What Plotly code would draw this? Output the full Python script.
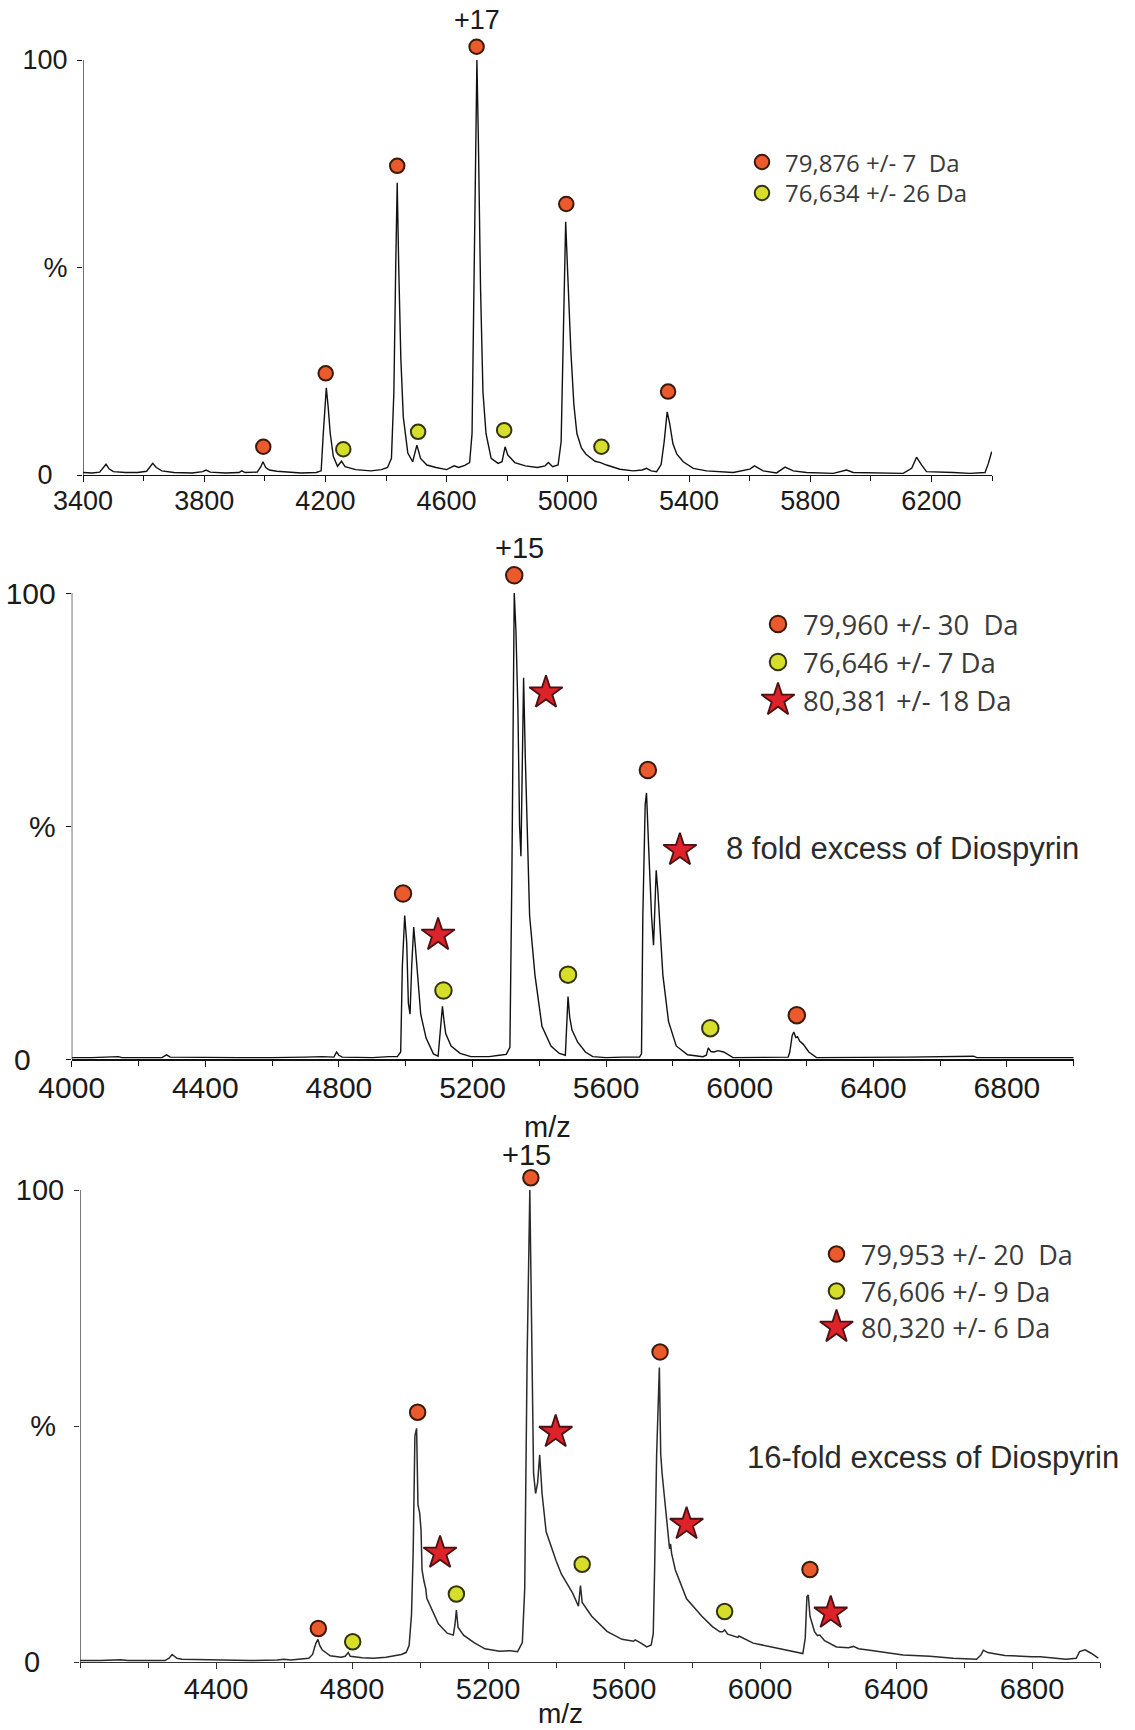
import plotly.graph_objects as go

W, H = 1135, 1730

# ---------------- Panel 1 data ----------------
p1_mz = [3400, 3430, 3455, 3468, 3476, 3486, 3500, 3540, 3580, 3610, 3622, 3630, 3642, 3660, 3700,
         3760, 3795, 3806, 3820, 3870, 3915, 3924, 3935, 3975, 3987, 3994, 4003, 4015, 4040, 4070,
         4120, 4170, 4186, 4193, 4203, 4209, 4216, 4226, 4240, 4253, 4265, 4300, 4350, 4385, 4405,
         4418, 4426, 4432, 4437, 4442, 4449, 4457, 4472, 4488, 4502, 4514, 4535, 4565, 4600, 4625,
         4640, 4660, 4676, 4684, 4690, 4696, 4700, 4705, 4712, 4720, 4730, 4747, 4770, 4783, 4793,
         4802, 4825, 4860, 4900, 4925, 4936, 4950, 4968, 4978, 4984, 4993, 5000, 5010, 5020, 5030,
         5045, 5060, 5090, 5108, 5128, 5172, 5216, 5245, 5260, 5275, 5293, 5308, 5318, 5328, 5336,
         5347, 5360, 5381, 5414, 5458, 5546, 5601, 5616, 5645, 5689, 5717, 5744, 5788, 5876, 5920,
         5942, 6052, 6107, 6135, 6151, 6168, 6184, 6272, 6327, 6377, 6388, 6399]
p1_int = [0.6, 0.5, 0.7, 1.8, 2.6, 1.5, 0.8, 0.6, 0.6, 0.9, 2.0, 2.8, 1.8, 1.0, 0.6,
          0.5, 0.8, 1.2, 0.7, 0.5, 0.6, 1.0, 0.6, 0.7, 2.0, 3.2, 1.8, 1.2, 0.9, 0.7,
          0.5, 0.6, 1.0, 10, 21, 16.5, 10, 4.5, 2.1, 3.3, 2.0, 1.3, 1.0, 1.3, 1.8,
          4, 20, 50, 70.4, 50, 28, 14, 5.3, 3.2, 7.2, 4.0, 2.4, 1.8, 1.3, 2.2,
          1.8, 2.3, 3, 10, 40, 80, 100, 80, 45, 20, 10, 4.0, 2.8, 3.2, 6.8,
          4.8, 3.0, 2.2, 1.8, 2.2, 3.0, 2.0, 2.4, 8, 30, 61, 48, 30, 17, 10,
          6.5, 5.0, 3.3, 3.0, 2.4, 1.4, 1.0, 1.2, 1.6, 1.0, 0.8, 2.5, 8, 15.2, 12.5,
          7.5, 5, 3.2, 1.6, 1.0, 0.6, 1.4, 2.2, 1.0, 0.5, 1.9, 1.0, 0.6, 0.4, 1.2,
          0.6, 0.4, 0.4, 1.6, 4.3, 2.4, 0.8, 0.6, 0.4, 0.6, 2.8, 5.6]
p1_orange_mz = [3995, 4201, 4437, 4699, 4995, 5331]
p1_orange_int = [6.8, 24.5, 74.5, 103.2, 65.3, 20.1]
p1_yellow_mz = [4259, 4506, 4790, 5111]
p1_yellow_int = [6.2, 10.4, 10.8, 6.8]
p1_xticks = [3400, 3800, 4200, 4600, 5000, 5400, 5800, 6200]
p1_legend = ["79,876 +/- 7\u00a0 Da", "76,634 +/- 26 Da"]
p1_charge = "+17"

# ---------------- Panel 2 data ----------------
p2_mz = [4000, 4060, 4140, 4150, 4270, 4284, 4295, 4400, 4500, 4600, 4680, 4700, 4750, 4785, 4793,
         4800, 4810, 4900, 4950, 4975, 4985, 4990, 4997, 5003, 5008, 5013, 5018, 5024, 5029, 5035,
         5045, 5061, 5083, 5097, 5104, 5110, 5115, 5120, 5136, 5163, 5195, 5250, 5280, 5301, 5312,
         5318, 5325, 5330, 5336, 5341, 5345, 5348, 5353, 5358, 5363, 5371, 5387, 5408, 5435, 5460,
         5478, 5482, 5486, 5491, 5498, 5515, 5538, 5560, 5600, 5650, 5700, 5706, 5710, 5717, 5721,
         5728, 5736, 5742, 5746, 5750, 5755, 5759, 5770, 5787, 5810, 5844, 5890, 5900, 5906, 5914,
         5923, 5935, 5952, 5980, 6050, 6100, 6145, 6150, 6157, 6162, 6168, 6173, 6180, 6190, 6207,
         6230, 6400, 6500, 6700, 6710, 7000]
p2_int = [0.3, 0.3, 0.5, 0.3, 0.3, 0.9, 0.4, 0.3, 0.3, 0.3, 0.5, 0.4, 0.5, 0.4, 1.5,
          0.8, 0.4, 0.3, 0.5, 0.5, 1.5, 20, 30.8, 25, 12, 9.6, 20, 28.3, 24, 18,
          9.6, 4.5, 1.1, 0.6, 6, 11.3, 8, 5.4, 2.8, 1.2, 0.5, 0.5, 0.8, 1.0, 2.5,
          40, 100, 92, 75, 50, 43.5, 60, 81.8, 65, 50, 30.8, 18, 7, 2.8, 1.2,
          0.8, 8, 13.4, 9, 6.2, 3.6, 1.5, 0.5, 0.3, 0.4, 0.4, 1.1, 30.8, 54.6, 57.1,
          44.4, 30.8, 24.4, 35, 40.5, 36, 30.8, 18, 8, 2.8, 0.9, 0.5, 0.8, 2.4, 1.6,
          1.5, 1.8, 1.5, 0.3, 0.3, 0.3, 0.4, 1.5, 5, 5.8, 4.6, 4.8, 3.8, 3.2, 1.5,
          0.3, 0.3, 0.4, 0.6, 0.3, 0.3]
p2_orange_mz = [4992, 5325, 5725, 6171]
p2_orange_int = [35.5, 103.8, 62.0, 9.4]
p2_yellow_mz = [5113, 5486, 5912]
p2_yellow_int = [14.7, 18.1, 6.6]
p2_star_mz = [5097, 5420, 5821]
p2_star_int = [26.6, 78.6, 44.8]
p2_xticks = [4000, 4400, 4800, 5200, 5600, 6000, 6400, 6800]
p2_legend = ["79,960 +/- 30\u00a0 Da", "76,646 +/- 7 Da", "80,381 +/- 18 Da"]
p2_charge = "+15"
p2_note = "8 fold excess of Diospyrin"

# ---------------- Panel 3 data ----------------
p3_mz = [4000, 4060, 4120, 4140, 4250, 4262, 4271, 4285, 4300, 4350, 4400, 4500, 4580, 4600, 4620,
         4650, 4673, 4684, 4694, 4700, 4705, 4712, 4736, 4768, 4780, 4789, 4795, 4830, 4863, 4900,
         4916, 4945, 4959, 4968, 4975, 4980, 4985, 4990, 4994, 4999, 5003, 5006, 5012, 5017, 5020,
         5033, 5054, 5080, 5098, 5103, 5107, 5112, 5128, 5159, 5191, 5234, 5266, 5287, 5301, 5308,
         5315, 5323, 5329, 5334, 5340, 5346, 5352, 5359, 5371, 5382, 5400, 5416, 5449, 5466, 5472,
         5477, 5505, 5550, 5594, 5628, 5633, 5650, 5667, 5680, 5686, 5690, 5696, 5704, 5708, 5712,
         5725, 5734, 5737, 5740, 5751, 5784, 5829, 5860, 5882, 5890, 5896, 5905, 5935, 5938, 5980,
         6030, 6078, 6126, 6133, 6138, 6142, 6147, 6160, 6169, 6176, 6190, 6225, 6260, 6275, 6290,
         6323, 6380, 6421, 6500, 6568, 6637, 6650, 6657, 6670, 6686, 6720, 6800, 6824, 6900, 6930,
         6940, 6956, 6975, 6995]
p3_int = [0.3, 0.3, 0.5, 0.3, 0.3, 0.8, 1.6, 0.8, 0.6, 0.5, 0.4, 0.3, 0.4, 0.6, 0.4,
          0.6, 0.8, 1.6, 4.0, 4.8, 3.5, 2.6, 1.3, 1.0, 1.2, 2.0, 1.2, 0.9, 0.8, 1.0,
          1.2, 1.6, 2.0, 3.5, 10, 23.5, 47.9, 49.5, 33.3, 31.6, 28, 19.5, 17, 15.5, 13.5,
          11.4, 8.1, 6.1, 5.7, 8, 11, 7.3, 5.7, 4.1, 2.8, 2.3, 2.4, 2.2, 4.1, 15.5,
          64, 100, 72, 40, 35.7, 38, 43.9, 35.7, 27.6, 25.1, 21.5, 18.6, 14.6, 11.8, 16.2,
          12.6, 9.7, 6.5, 4.8, 4.4, 4.7, 4.0, 3.2, 3.6, 6, 19.5, 43.9, 62.4, 44, 40,
          30, 24, 25, 23, 19.5, 13.4, 9.7, 7.5, 6.4, 6.4, 6.8, 5.9, 5.2, 5.5, 4.0,
          3.2, 2.5, 1.8, 5, 13.8, 14.2, 9.7, 6.5, 5.6, 5.7, 4.5, 3.2, 3.0, 3.3, 2.8,
          2.5, 2.0, 1.5, 1.2, 0.8, 0.6, 1.5, 2.5, 2.0, 1.8, 1.4, 1.1, 1.1, 0.6, 0.8,
          2.2, 2.6, 1.8, 0.8]
p3_orange_mz = [4701, 4993, 5326, 5706, 6147]
p3_orange_int = [7.1, 52.9, 102.6, 65.7, 19.6]
p3_yellow_mz = [4802, 5107, 5477, 5896]
p3_yellow_int = [4.3, 14.4, 20.7, 10.7]
p3_star_mz = [5059, 5399, 5784, 6208]
p3_star_int = [23.1, 48.7, 29.2, 10.4]
p3_xticks = [4400, 4800, 5200, 5600, 6000, 6400, 6800]
p3_legend = ["79,953 +/- 20\u00a0 Da", "76,606 +/- 9 Da", "80,320 +/- 6 Da"]
p3_charge = "+15"
p3_note = "16-fold excess of Diospyrin"

y_tickvals = [0, 50, 100]
y_ticklabels = ["0", "%", "100"]

# ---------------- Styling / layout ----------------
ORANGE = "#EA5A2C"
ORANGE_EDGE = "#3b1a0c"
YELLOW = "#D6DE2A"
YELLOW_EDGE = "#33330f"
STAR = "#DD2229"
STAR_EDGE = "#4a1212"
TICKFONT = "Liberation Sans, Arial, sans-serif"
LEGFONT = "Open Sans, sans-serif"
NB = "\u00a0"

# pixel frames: (x_left, x_right, y_zero, y_hundred, x_range, y_top_value)
frames = {
    1: (83, 992, 475, 60, [3400, 6400], 112),
    2: (71.7, 1073.7, 1059, 593, [4000, 7000], 115),
    3: (80, 1100, 1662, 1190, [4000, 7000], 115),
}
# extra right padding (in non-breaking spaces) of the "0" and "%" y labels per panel
ypad = {1: (2, 0), 2: (3, 0), 3: (3, 1)}


def to_data(k, px, py):
    x0, x1, y0, y100, xr, ytop = frames[k]
    x = xr[0] + (px - x0) / (x1 - x0) * (xr[1] - xr[0])
    y = (y0 - py) / (y0 - y100) * 100.0
    return x, y


fig = go.Figure()


def add_panel(k, mz, inten, om, oi, ym, yi, sm, si, circ, starsize, lc, lw):
    ax = "" if k == 1 else str(k)
    xa, ya = "x" + ax, "y" + ax
    fig.add_trace(go.Scatter(x=mz, y=inten, mode="lines", xaxis=xa, yaxis=ya,
                             line=dict(color=lc, width=lw), cliponaxis=False,
                             showlegend=False, hoverinfo="skip"))
    fig.add_trace(go.Scatter(x=om, y=oi, mode="markers", xaxis=xa, yaxis=ya, cliponaxis=False,
                             marker=dict(size=circ, color=ORANGE,
                                         line=dict(color=ORANGE_EDGE, width=2)),
                             showlegend=False))
    fig.add_trace(go.Scatter(x=ym, y=yi, mode="markers", xaxis=xa, yaxis=ya, cliponaxis=False,
                             marker=dict(size=circ, color=YELLOW,
                                         line=dict(color=YELLOW_EDGE, width=2)),
                             showlegend=False))
    if sm:
        fig.add_trace(go.Scatter(x=sm, y=si, mode="markers", xaxis=xa, yaxis=ya, cliponaxis=False,
                                 marker=dict(size=starsize, color=STAR, symbol="star",
                                             line=dict(color=STAR_EDGE, width=1.8)),
                                 showlegend=False))


add_panel(1, p1_mz, p1_int, p1_orange_mz, p1_orange_int, p1_yellow_mz, p1_yellow_int,
          [], [], 14.5, 25, "#111111", 1.4)
add_panel(2, p2_mz, p2_int, p2_orange_mz, p2_orange_int, p2_yellow_mz, p2_yellow_int,
          p2_star_mz, p2_star_int, 16.5, 25, "#111111", 1.4)
add_panel(3, p3_mz, p3_int, p3_orange_mz, p3_orange_int, p3_yellow_mz, p3_yellow_int,
          p3_star_mz, p3_star_int, 15.5, 25, "#2a2a2a", 1.5)

# legend keys (positions in pixels, converted to axis coordinates)
leg_specs = {
    1: dict(px=762, pys=[162, 193], tx=783, size=24, circ=14.5, syms=["o", "y"]),
    2: dict(px=778, pys=[624, 662, 700], tx=801, size=27.5, circ=16.5, syms=["o", "y", "s"]),
    3: dict(px=836.5, pys=[1254, 1291, 1327], tx=859, size=27, circ=15.5, syms=["o", "y", "s"]),
}
leg_texts = {1: p1_legend, 2: p2_legend, 3: p3_legend}
annotations = []
for k, spec in leg_specs.items():
    ax = "" if k == 1 else str(k)
    for sym, py, label in zip(spec["syms"], spec["pys"], leg_texts[k]):
        x, y = to_data(k, spec["px"], py)
        if sym == "o":
            mk = dict(size=spec["circ"], color=ORANGE, line=dict(color=ORANGE_EDGE, width=2))
        elif sym == "y":
            mk = dict(size=spec["circ"], color=YELLOW, line=dict(color=YELLOW_EDGE, width=2))
        else:
            mk = dict(size=25, color=STAR, symbol="star", line=dict(color=STAR_EDGE, width=1.8))
        fig.add_trace(go.Scatter(x=[x], y=[y], mode="markers", xaxis="x" + ax, yaxis="y" + ax,
                                 cliponaxis=False, marker=mk, showlegend=False))
        annotations.append(dict(x=spec["tx"] / W, y=1 - py / H, xref="paper", yref="paper",
                                text=label, showarrow=False, xanchor="left", yanchor="middle",
                                font=dict(family=LEGFONT, size=spec["size"], color="#3a3a3a")))

# charge labels, notes and axis titles (paper coordinates from pixel positions)
for (px, py), txt, fs, anchor, col in [
        ((477, 20), p1_charge, 27, "center", "#1a1a1a"),
        ((519, 548), p2_charge, 29, "center", "#1a1a1a"),
        ((526, 1155), p3_charge, 29, "center", "#1a1a1a"),
        ((724, 848), p2_note, 31, "left", "#2a2a2a"),
        ((745, 1457), p3_note, 31, "left", "#2a2a2a"),
        ((547, 1127), "m/z", 29, "center", "#1a1a1a"),
        ((560, 1713), "m/z", 28, "center", "#1a1a1a")]:
    annotations.append(dict(x=px / W, y=1 - py / H, xref="paper", yref="paper", text=txt,
                            showarrow=False, xanchor=anchor, yanchor="middle",
                            font=dict(family=TICKFONT, size=fs, color=col)))

shapes = []


def xaxis_cfg(k, ticks, fs, lw, lcol):
    x0, x1, y0, y100, xr, ytop = frames[k]
    return dict(domain=[x0 / W, x1 / W], range=xr, anchor="y" + ("" if k == 1 else str(k)),
                automargin=False,
                showgrid=False, zeroline=False, showline=True, linecolor=lcol, linewidth=lw,
                tickmode="array", tickvals=ticks, ticktext=[str(t) for t in ticks],
                ticks="outside", ticklen=6, tickwidth=1.2, tickcolor=lcol,
                ticklabelstandoff=-5,
                minor=dict(tickmode="linear", tick0=xr[0], dtick=200, ticks="outside",
                           ticklen=5, tickwidth=1.2, tickcolor=lcol),
                tickfont=dict(family=TICKFONT, size=fs, color="#1a1a1a"))


def yaxis_cfg(k, fs, lw, lcol):
    x0, x1, y0, y100, xr, ytop = frames[k]
    ytop_px = y0 - ytop / 100.0 * (y0 - y100)
    ax = "" if k == 1 else str(k)
    # visible axis line only from 0 to 100
    shapes.append(dict(type="line", xref="x" + ax, yref="y" + ax, x0=xr[0], x1=xr[0],
                       y0=0, y1=100, line=dict(color=lcol, width=lw), layer="above"))
    pz, pp = ypad[k]
    labels = [y_ticklabels[0] + NB * pz, y_ticklabels[1] + NB * pp, y_ticklabels[2]]
    return dict(domain=[1 - y0 / H, 1 - ytop_px / H], range=[0, ytop],
                anchor="x" + ax, automargin=False,
                showgrid=False, zeroline=False, showline=False,
                tickmode="array", tickvals=y_tickvals, ticktext=labels,
                ticks="outside", ticklen=5, tickwidth=1.2, tickcolor=lcol,
                ticklabelstandoff=4,
                tickfont=dict(family=TICKFONT, size=fs, color="#1a1a1a"))


layout_axes = dict(
    xaxis=xaxis_cfg(1, p1_xticks, 27, 1.2, "#111111"),
    yaxis=yaxis_cfg(1, 27, 1.2, "#111111"),
    xaxis2=xaxis_cfg(2, p2_xticks, 30, 1.8, "#111111"),
    yaxis2=yaxis_cfg(2, 30, 1.2, "#111111"),
    xaxis3=xaxis_cfg(3, p3_xticks, 29, 1.3, "#333333"),
    yaxis3=yaxis_cfg(3, 29, 1.3, "#333333"),
)

fig.update_layout(
    width=W, height=H, margin=dict(l=0, r=0, t=0, b=0, autoexpand=False),
    paper_bgcolor="white", plot_bgcolor="white", showlegend=False,
    annotations=annotations, shapes=shapes, **layout_axes,
)

fig.write_html("out.html", config={"displayModeBar": False},
               post_script="document.body.style.margin='0';document.body.style.overflow='hidden';")
